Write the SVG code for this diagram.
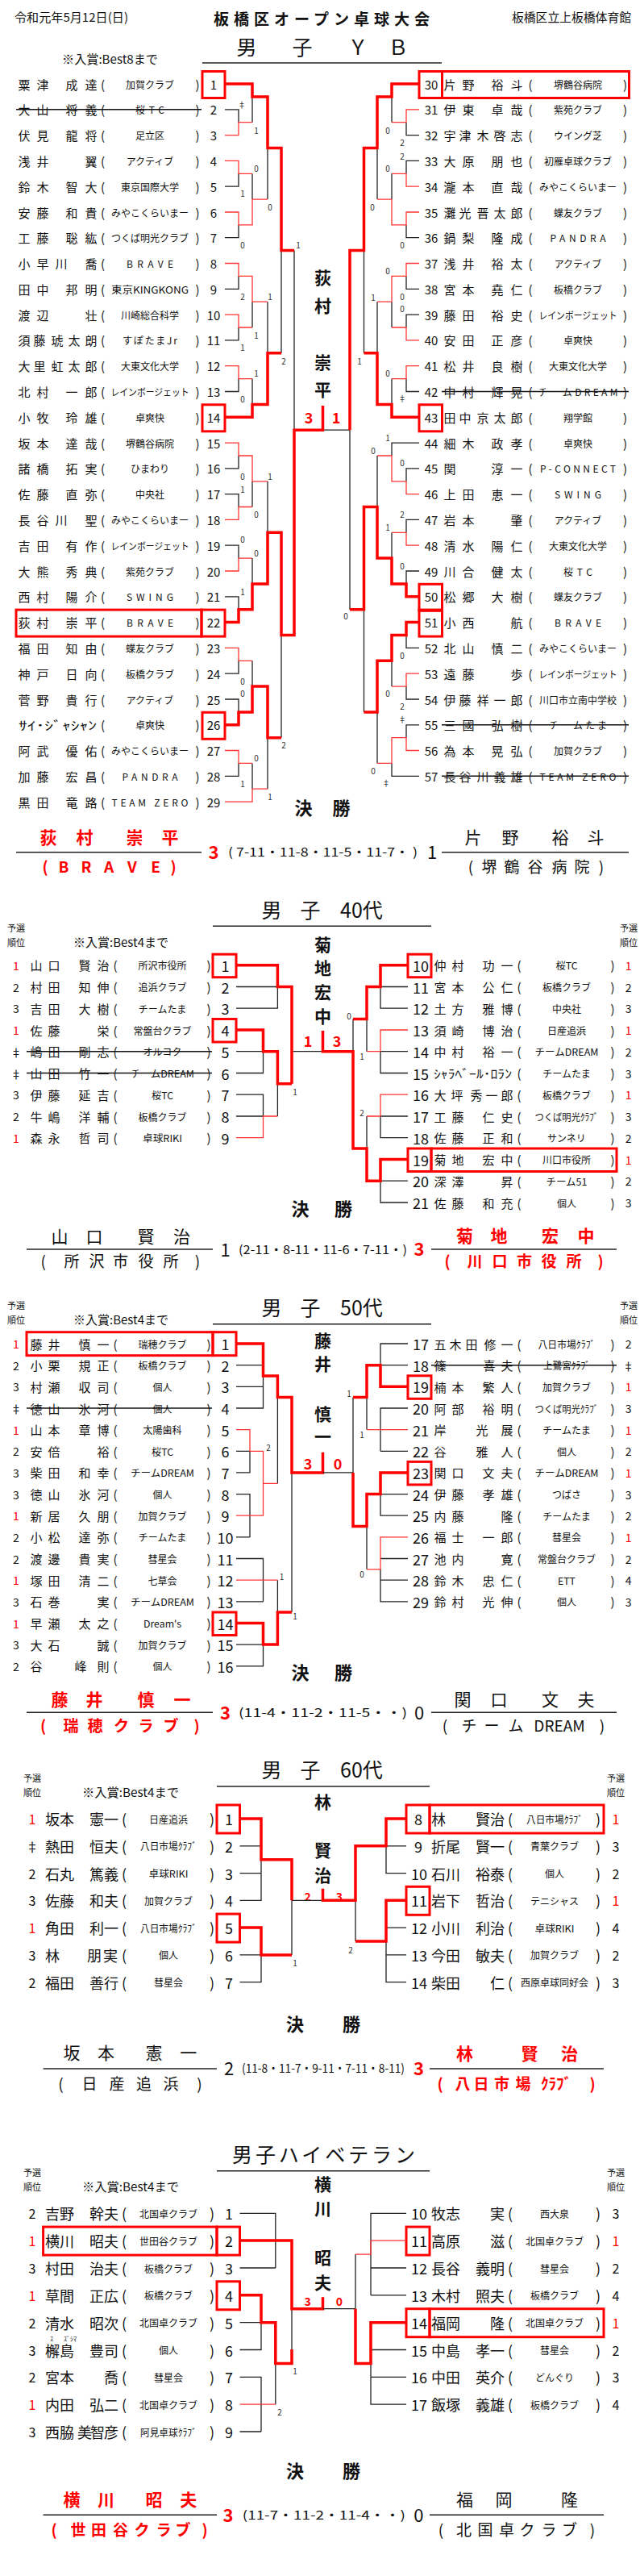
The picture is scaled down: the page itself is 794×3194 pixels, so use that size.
<svg xmlns="http://www.w3.org/2000/svg" width="794" height="3194" viewBox="0 0 794 3194">
<style>
text{font-family:"Noto Sans CJK JP","Noto Sans",sans-serif;dominant-baseline:central;text-anchor:middle;fill:#111}
.s{text-anchor:start}
.n{font-size:15px}
.n2{font-size:18px}
.c{font-size:12px}
.u{font-size:15px}
.u2{font-size:18px}
.rk{font-size:14px}
.rk2{font-size:16px}
.sc{font-size:10px;fill:#333}
.r{fill:#f00}
.b{font-weight:bold}
.ct{font-size:21px;font-weight:bold}
.cs{font-size:18px;font-weight:bold;fill:#f00}
.cs2{font-size:14px;font-weight:bold;fill:#f00}
.ttl{font-size:25px}
.sm{font-size:11px}
.nt{font-size:15px}
.fk{font-size:22px;font-weight:bold}
.fn{font-size:21px}
.fp{font-size:19px}
.fs{font-size:15px}
.fd{font-size:22px}
.k{stroke:#222;stroke-width:1.3;fill:none}
.t{stroke:#f33;stroke-width:1.3;fill:none}
.T{stroke:#f00;stroke-width:3.5;fill:none}
.bx{stroke:#f00;stroke-width:3;fill:none}
.st{stroke:#111;stroke-width:1.5}
.ul{stroke:#222;stroke-width:1.5}
</style>
<rect width="794" height="3194" fill="#fff"/>
<g id="header">
<text class="s" x="18" y="20" font-size="15" textLength="141" lengthAdjust="spacingAndGlyphs">令和元年5月12日(日)</text>
<text class="s b" x="265" y="22" font-size="19" textLength="268" lengthAdjust="spacing">板橋区オープン卓球大会</text>
<text class="s" x="635" y="20" font-size="15" textLength="148" lengthAdjust="spacingAndGlyphs">板橋区立上板橋体育館</text>
</g>

<g id="yb-title">
<text class="ttl" x="306 375 444 494" y="57">男子ＹＢ</text>
<line class="ul" x1="251" y1="78" x2="548" y2="78"/>
<text class="nt s" x="77" y="72" textLength="119" lengthAdjust="spacingAndGlyphs">※入賞:Best8まで</text>
<text class="ct" x="400.5" y="343">荻</text><text class="ct" x="400.5" y="378">村</text><text class="ct" x="400.5" y="448">崇</text><text class="ct" x="400.5" y="482">平</text>
<text class="cs" x="383" y="517">3</text><text class="cs" x="417" y="517">1</text>
</g>

<g id="yb-left">
<g id="yb1" transform="translate(0,104)"><text class="n" x="30 53 89 113">粟津成達</text><text class="n" x="127.5">(</text><text class="n" x="245">)</text><text class="c" x="186">加賀クラブ</text><text class="u" x="265">1</text><rect class="bx" x="251" y="-15.5" width="28" height="33"/></g>
<g id="yb2" transform="translate(0,135.8)"><text class="n" x="30 53 89 113">大山将義</text><text class="n" x="127.5">(</text><text class="n" x="245">)</text><text class="c" x="186" textLength="36" lengthAdjust="spacing">桜TC</text><text class="u" x="265">2</text><line class="st" x1="20" x2="250"/></g>
<g id="yb3" transform="translate(0,167.6)"><text class="n" x="30 53 89 113">伏見龍将</text><text class="n" x="127.5">(</text><text class="n" x="245">)</text><text class="c" x="186">足立区</text><text class="u" x="265">3</text></g>
<g id="yb4" transform="translate(0,199.4)"><text class="n" x="30 53 113">浅井翼</text><text class="n" x="127.5">(</text><text class="n" x="245">)</text><text class="c" x="186">アクティブ</text><text class="u" x="265">4</text></g>
<g id="yb5" transform="translate(0,231.2)"><text class="n" x="30 53 89 113">鈴木智大</text><text class="n" x="127.5">(</text><text class="n" x="245">)</text><text class="c" x="186">東京国際大学</text><text class="u" x="265">5</text></g>
<g id="yb6" transform="translate(0,263)"><text class="n" x="30 53 89 113">安藤和貴</text><text class="n" x="127.5">(</text><text class="n" x="245">)</text><text class="c" x="186">みやこくらいまー</text><text class="u" x="265">6</text></g>
<g id="yb7" transform="translate(0,294.7)"><text class="n" x="30 53 89 113">工藤聡紘</text><text class="n" x="127.5">(</text><text class="n" x="245">)</text><text class="c" x="186">つくば明光クラブ</text><text class="u" x="265">7</text></g>
<g id="yb8" transform="translate(0,326.5)"><text class="n" x="30 53 76 113">小早川喬</text><text class="n" x="127.5">(</text><text class="n" x="245">)</text><text class="c" x="186" textLength="58" lengthAdjust="spacing">BRAVE</text><text class="u" x="265">8</text></g>
<g id="yb9" transform="translate(0,358.3)"><text class="n" x="30 53 89 113">田中邦明</text><text class="n" x="127.5">(</text><text class="n" x="245">)</text><text class="c" x="186" textLength="96" lengthAdjust="spacingAndGlyphs">東京KINGKONG</text><text class="u" x="265">9</text></g>
<g id="yb10" transform="translate(0,390.1)"><text class="n" x="30 53 113">渡辺壮</text><text class="n" x="127.5">(</text><text class="n" x="245">)</text><text class="c" x="186">川崎総合科学</text><text class="u" x="265">10</text></g>
<g id="yb11" transform="translate(0,421.9)"><text class="n" x="30 49 71 92 113">須藤琥太朗</text><text class="n" x="127.5">(</text><text class="n" x="245">)</text><text class="c" x="186" textLength="68" lengthAdjust="spacing">すぽたまJr</text><text class="u" x="265">11</text></g>
<g id="yb12" transform="translate(0,453.7)"><text class="n" x="30 49 71 92 113">大里虹太郎</text><text class="n" x="127.5">(</text><text class="n" x="245">)</text><text class="c" x="186">大東文化大学</text><text class="u" x="265">12</text></g>
<g id="yb13" transform="translate(0,485.5)"><text class="n" x="30 53 89 113">北村一郎</text><text class="n" x="127.5">(</text><text class="n" x="245">)</text><text class="c" x="186" textLength="97" lengthAdjust="spacingAndGlyphs">レインボージェット</text><text class="u" x="265">13</text></g>
<g id="yb14" transform="translate(0,517.3)"><text class="n" x="30 53 89 113">小牧玲雄</text><text class="n" x="127.5">(</text><text class="n" x="245">)</text><text class="c" x="186">卓爽快</text><text class="u" x="265">14</text><rect class="bx" x="251" y="-15.5" width="28" height="33"/></g>
<g id="yb15" transform="translate(0,549.1)"><text class="n" x="30 53 89 113">坂本達哉</text><text class="n" x="127.5">(</text><text class="n" x="245">)</text><text class="c" x="186">堺鶴谷病院</text><text class="u" x="265">15</text></g>
<g id="yb16" transform="translate(0,580.9)"><text class="n" x="30 53 89 113">諸橋拓実</text><text class="n" x="127.5">(</text><text class="n" x="245">)</text><text class="c" x="186">ひまわり</text><text class="u" x="265">16</text></g>
<g id="yb17" transform="translate(0,612.6)"><text class="n" x="30 53 89 113">佐藤直弥</text><text class="n" x="127.5">(</text><text class="n" x="245">)</text><text class="c" x="186">中央社</text><text class="u" x="265">17</text></g>
<g id="yb18" transform="translate(0,644.4)"><text class="n" x="30 53 76 113">長谷川聖</text><text class="n" x="127.5">(</text><text class="n" x="245">)</text><text class="c" x="186">みやこくらいまー</text><text class="u" x="265">18</text></g>
<g id="yb19" transform="translate(0,676.2)"><text class="n" x="30 53 89 113">吉田有作</text><text class="n" x="127.5">(</text><text class="n" x="245">)</text><text class="c" x="186" textLength="97" lengthAdjust="spacingAndGlyphs">レインボージェット</text><text class="u" x="265">19</text></g>
<g id="yb20" transform="translate(0,708)"><text class="n" x="30 53 89 113">大熊秀典</text><text class="n" x="127.5">(</text><text class="n" x="245">)</text><text class="c" x="186">紫苑クラブ</text><text class="u" x="265">20</text></g>
<g id="yb21" transform="translate(0,739.8)"><text class="n" x="30 53 89 113">西村陽介</text><text class="n" x="127.5">(</text><text class="n" x="245">)</text><text class="c" x="186" textLength="58" lengthAdjust="spacing">SWING</text><text class="u" x="265">21</text></g>
<g id="yb22" transform="translate(0,771.6)"><text class="n" x="30 53 89 113">荻村崇平</text><text class="n" x="127.5">(</text><text class="n" x="245">)</text><text class="c" x="186" textLength="58" lengthAdjust="spacing">BRAVE</text><text class="u" x="265">22</text><rect class="bx" x="20" y="-15.5" width="230" height="33"/><rect class="bx" x="250" y="-15.5" width="29" height="33"/></g>
<g id="yb23" transform="translate(0,803.4)"><text class="n" x="30 53 89 113">福田知由</text><text class="n" x="127.5">(</text><text class="n" x="245">)</text><text class="c" x="186">蝶友クラブ</text><text class="u" x="265">23</text></g>
<g id="yb24" transform="translate(0,835.2)"><text class="n" x="30 53 89 113">神戸日向</text><text class="n" x="127.5">(</text><text class="n" x="245">)</text><text class="c" x="186">板橋クラブ</text><text class="u" x="265">24</text></g>
<g id="yb25" transform="translate(0,867)"><text class="n" x="30 53 89 113">菅野貴行</text><text class="n" x="127.5">(</text><text class="n" x="245">)</text><text class="c" x="186">アクティブ</text><text class="u" x="265">25</text></g>
<g id="yb26" transform="translate(0,898.8)"><text class="n s" x="23" textLength="97" lengthAdjust="spacingAndGlyphs">ｻｲ･ｼﾞｬｼｬﾝ</text><text class="n" x="127.5">(</text><text class="n" x="245">)</text><text class="c" x="186">卓爽快</text><text class="u" x="265">26</text><rect class="bx" x="251" y="-15.5" width="28" height="33"/></g>
<g id="yb27" transform="translate(0,930.5)"><text class="n" x="30 53 89 113">阿武優佑</text><text class="n" x="127.5">(</text><text class="n" x="245">)</text><text class="c" x="186">みやこくらいまー</text><text class="u" x="265">27</text></g>
<g id="yb28" transform="translate(0,962.3)"><text class="n" x="30 53 89 113">加藤宏昌</text><text class="n" x="127.5">(</text><text class="n" x="245">)</text><text class="c" x="186" textLength="69" lengthAdjust="spacing">PANDRA</text><text class="u" x="265">28</text></g>
<g id="yb29" transform="translate(0,994.1)"><text class="n" x="30 53 89 113">黒田竜路</text><text class="n" x="127.5">(</text><text class="n" x="245">)</text><text class="c" x="186" textLength="95" lengthAdjust="spacing">TEAM ZERO</text><text class="u" x="265">29</text></g>
</g>

<g id="yb-right">
<g id="yb30" transform="translate(0,104)"><text class="n" x="558 581 617 641">片野裕斗</text><text class="n" x="658">(</text><text class="n" x="775.5">)</text><text class="c" x="717">堺鶴谷病院</text><text class="u" x="535">30</text><rect class="bx" x="520" y="-15.5" width="28.5" height="33"/><rect class="bx" x="548.5" y="-15.5" width="232" height="33"/></g>
<g id="yb31" transform="translate(0,135.8)"><text class="n" x="558 581 617 641">伊東卓哉</text><text class="n" x="658">(</text><text class="n" x="775.5">)</text><text class="c" x="717">紫苑クラブ</text><text class="u" x="535">31</text></g>
<g id="yb32" transform="translate(0,167.6)"><text class="n" x="558 577 599 620 641">宇津木啓志</text><text class="n" x="658">(</text><text class="n" x="775.5">)</text><text class="c" x="717">ウイング芝</text><text class="u" x="535">32</text></g>
<g id="yb33" transform="translate(0,199.4)"><text class="n" x="558 581 617 641">大原朋也</text><text class="n" x="658">(</text><text class="n" x="775.5">)</text><text class="c" x="717">初雁卓球クラブ</text><text class="u" x="535">33</text></g>
<g id="yb34" transform="translate(0,231.2)"><text class="n" x="558 581 617 641">瀧本直哉</text><text class="n" x="658">(</text><text class="n" x="775.5">)</text><text class="c" x="717">みやこくらいまー</text><text class="u" x="535">34</text></g>
<g id="yb35" transform="translate(0,263)"><text class="n" x="558 577 599 620 641">灘光晋太郎</text><text class="n" x="658">(</text><text class="n" x="775.5">)</text><text class="c" x="717">蝶友クラブ</text><text class="u" x="535">35</text></g>
<g id="yb36" transform="translate(0,294.7)"><text class="n" x="558 581 617 641">鍋梨隆成</text><text class="n" x="658">(</text><text class="n" x="775.5">)</text><text class="c" x="717" textLength="69" lengthAdjust="spacing">PANDRA</text><text class="u" x="535">36</text></g>
<g id="yb37" transform="translate(0,326.5)"><text class="n" x="558 581 617 641">浅井裕太</text><text class="n" x="658">(</text><text class="n" x="775.5">)</text><text class="c" x="717">アクティブ</text><text class="u" x="535">37</text></g>
<g id="yb38" transform="translate(0,358.3)"><text class="n" x="558 581 617 641">宮本堯仁</text><text class="n" x="658">(</text><text class="n" x="775.5">)</text><text class="c" x="717">板橋クラブ</text><text class="u" x="535">38</text></g>
<g id="yb39" transform="translate(0,390.1)"><text class="n" x="558 581 617 641">藤田裕史</text><text class="n" x="658">(</text><text class="n" x="775.5">)</text><text class="c" x="717" textLength="97" lengthAdjust="spacingAndGlyphs">レインボージェット</text><text class="u" x="535">39</text></g>
<g id="yb40" transform="translate(0,421.9)"><text class="n" x="558 581 617 641">安田正彦</text><text class="n" x="658">(</text><text class="n" x="775.5">)</text><text class="c" x="717">卓爽快</text><text class="u" x="535">40</text></g>
<g id="yb41" transform="translate(0,453.7)"><text class="n" x="558 581 617 641">松井良樹</text><text class="n" x="658">(</text><text class="n" x="775.5">)</text><text class="c" x="717">大東文化大学</text><text class="u" x="535">41</text></g>
<g id="yb42" transform="translate(0,485.5)"><text class="n" x="558 581 617 641">中村輝晃</text><text class="n" x="658">(</text><text class="n" x="775.5">)</text><text class="c" x="717" textLength="99" lengthAdjust="spacing">チームDREAM</text><text class="u" x="535">42</text><line class="st" x1="548" x2="780"/></g>
<g id="yb43" transform="translate(0,517.3)"><text class="n" x="558 577 599 620 641">田中京太郎</text><text class="n" x="658">(</text><text class="n" x="775.5">)</text><text class="c" x="717">翔学館</text><text class="u" x="535">43</text><rect class="bx" x="520" y="-15.5" width="28.5" height="33"/></g>
<g id="yb44" transform="translate(0,549.1)"><text class="n" x="558 581 617 641">細木政孝</text><text class="n" x="658">(</text><text class="n" x="775.5">)</text><text class="c" x="717">卓爽快</text><text class="u" x="535">44</text></g>
<g id="yb45" transform="translate(0,580.9)"><text class="n" x="558 617 641">関淳一</text><text class="n" x="658">(</text><text class="n" x="775.5">)</text><text class="c" x="717" textLength="94" lengthAdjust="spacing">P-CONNECT</text><text class="u" x="535">45</text></g>
<g id="yb46" transform="translate(0,612.6)"><text class="n" x="558 581 617 641">上田恵一</text><text class="n" x="658">(</text><text class="n" x="775.5">)</text><text class="c" x="717" textLength="58" lengthAdjust="spacing">SWING</text><text class="u" x="535">46</text></g>
<g id="yb47" transform="translate(0,644.4)"><text class="n" x="558 581 641">岩本肇</text><text class="n" x="658">(</text><text class="n" x="775.5">)</text><text class="c" x="717">アクティブ</text><text class="u" x="535">47</text></g>
<g id="yb48" transform="translate(0,676.2)"><text class="n" x="558 581 617 641">清水陽仁</text><text class="n" x="658">(</text><text class="n" x="775.5">)</text><text class="c" x="717">大東文化大学</text><text class="u" x="535">48</text></g>
<g id="yb49" transform="translate(0,708)"><text class="n" x="558 581 617 641">川合健太</text><text class="n" x="658">(</text><text class="n" x="775.5">)</text><text class="c" x="717" textLength="36" lengthAdjust="spacing">桜TC</text><text class="u" x="535">49</text></g>
<g id="yb50" transform="translate(0,739.8)"><text class="n" x="558 581 617 641">松郷大樹</text><text class="n" x="658">(</text><text class="n" x="775.5">)</text><text class="c" x="717">蝶友クラブ</text><text class="u" x="535">50</text><rect class="bx" x="520" y="-15.5" width="28.5" height="33"/></g>
<g id="yb51" transform="translate(0,771.6)"><text class="n" x="558 581 641">小西航</text><text class="n" x="658">(</text><text class="n" x="775.5">)</text><text class="c" x="717" textLength="58" lengthAdjust="spacing">BRAVE</text><text class="u" x="535">51</text><rect class="bx" x="520" y="-15.5" width="28.5" height="33"/></g>
<g id="yb52" transform="translate(0,803.4)"><text class="n" x="558 581 617 641">北山慎二</text><text class="n" x="658">(</text><text class="n" x="775.5">)</text><text class="c" x="717">みやこくらいまー</text><text class="u" x="535">52</text></g>
<g id="yb53" transform="translate(0,835.2)"><text class="n" x="558 581 641">遠藤歩</text><text class="n" x="658">(</text><text class="n" x="775.5">)</text><text class="c" x="717" textLength="97" lengthAdjust="spacingAndGlyphs">レインボージェット</text><text class="u" x="535">53</text></g>
<g id="yb54" transform="translate(0,867)"><text class="n" x="558 577 599 620 641">伊藤祥一郎</text><text class="n" x="658">(</text><text class="n" x="775.5">)</text><text class="c" x="717">川口市立南中学校</text><text class="u" x="535">54</text></g>
<g id="yb55" transform="translate(0,898.8)"><text class="n" x="558 581 617 641">三國弘樹</text><text class="n" x="658">(</text><text class="n" x="775.5">)</text><text class="c" x="717" textLength="72" lengthAdjust="spacing">チームたま</text><text class="u" x="535">55</text><line class="st" x1="548" x2="780"/></g>
<g id="yb56" transform="translate(0,930.5)"><text class="n" x="558 581 617 641">為本晃弘</text><text class="n" x="658">(</text><text class="n" x="775.5">)</text><text class="c" x="717">加賀クラブ</text><text class="u" x="535">56</text></g>
<g id="yb57" transform="translate(0,962.3)"><text class="n" x="558 577 599 620 641">長谷川義雄</text><text class="n" x="658">(</text><text class="n" x="775.5">)</text><text class="c" x="717" textLength="95" lengthAdjust="spacing">TEAM ZERO</text><text class="u" x="535">57</text><line class="st" x1="548" x2="780"/></g>
</g>

<g id="yb-scores">
<text class="sc" x="300" y="129">‡</text><text class="sc" x="318" y="161">1</text><text class="sc" x="318" y="208">0</text><text class="sc" x="301" y="239">1</text><text class="sc" x="335" y="256">0</text>
<text class="sc" x="301" y="303">0</text><text class="sc" x="370" y="303">1</text><text class="sc" x="301" y="367">2</text><text class="sc" x="335" y="367">1</text><text class="sc" x="318" y="415">1</text><text class="sc" x="301" y="430">1</text><text class="sc" x="352" y="447">2</text><text class="sc" x="318" y="462">1</text><text class="sc" x="301" y="494">0</text>
<text class="sc" x="301" y="590">0</text><text class="sc" x="335" y="590">1</text><text class="sc" x="301" y="606">1</text><text class="sc" x="318" y="637">0</text><text class="sc" x="301" y="668">0</text><text class="sc" x="318" y="685">0</text><text class="sc" x="301" y="733">1</text>
<text class="sc" x="301" y="844">0</text><text class="sc" x="301" y="859">0</text><text class="sc" x="352" y="923">2</text><text class="sc" x="318" y="939">0</text><text class="sc" x="301" y="971">1</text><text class="sc" x="335" y="987">1</text>
<text class="sc" x="481" y="161">0</text><text class="sc" x="499" y="176">2</text><text class="sc" x="499" y="193">2</text><text class="sc" x="481" y="208">0</text><text class="sc" x="462" y="256">0</text>
<text class="sc" x="499" y="303">0</text><text class="sc" x="481" y="335">0</text><text class="sc" x="463" y="368">1</text><text class="sc" x="499" y="367">0</text><text class="sc" x="499" y="382">0</text><text class="sc" x="446" y="447">1</text><text class="sc" x="481" y="462">0</text><text class="sc" x="499" y="493">‡</text>
<text class="sc" x="481" y="542">1</text><text class="sc" x="463" y="558">0</text><text class="sc" x="499" y="573">0</text><text class="sc" x="499" y="637">2</text><text class="sc" x="481" y="653">1</text><text class="sc" x="499" y="701">0</text><text class="sc" x="429" y="763">0</text>
<text class="sc" x="499" y="812">0</text><text class="sc" x="481" y="859">0</text><text class="sc" x="499" y="875">2</text><text class="sc" x="499" y="891">‡</text><text class="sc" x="463" y="955">0</text><text class="sc" x="479" y="970">‡</text>
</g>

<g id="yb-final">
<text class="fk" x="376.5 423.5" y="1000">決勝</text>
<text class="fn b r" x="60 105 167 211" y="1037">荻村崇平</text>
<line class="ul" x1="20" y1="1056.7" x2="250" y2="1056.7"/>
<text class="fd b r" x="265" y="1055">3</text>
<text class="fs" x="400.5" y="1055" textLength="235" lengthAdjust="spacingAndGlyphs">( 7-11・11-8・11-5・11-7・ )</text>
<text class="fd" x="536" y="1055">1</text>
<line class="ul" x1="548" y1="1056.7" x2="780" y2="1056.7"/>
<text class="fn" x="587 633 695 739" y="1037">片野裕斗</text>
<text class="fp b r" x="56 79 107 135 164 193 215" y="1073">(BRAVE)</text>
<text class="fp" x="584 607 635 664 694 722 746" y="1073">(堺鶴谷病院)</text>
</g>

<g id="m40-title">
<text class="ttl" x="337 385 448.5" y="1127">男子40代</text>
<line class="ul" x1="264" y1="1148.3" x2="535" y2="1148.3"/>
<text class="sm" x="20" y="1150">予選</text><text class="sm" x="20" y="1168">順位</text>
<text class="sm" x="780" y="1150">予選</text><text class="sm" x="780" y="1168">順位</text>
<text class="nt s" x="91" y="1167" textLength="118" lengthAdjust="spacingAndGlyphs">※入賞:Best4まで</text>
<text class="ct" x="400.5" y="1170">菊</text><text class="ct" x="400.5" y="1199">地</text><text class="ct" x="400.5" y="1229">宏</text><text class="ct" x="400.5" y="1259">中</text>
<text class="cs" x="382" y="1290">1</text><text class="cs" x="418" y="1290">3</text>
</g>
<g id="m40-left">
<g id="m40-1" transform="translate(0,1196.7)"><text class="rk r" x="20">1</text><text class="n" x="45 67 105 128">山口賢治</text><text class="n" x="143">(</text><text class="n" x="259">)</text><text class="c" x="201.5">所沢市役所</text><text class="u2" x="279.6">1</text><rect class="bx" x="264" y="-13.5" width="29" height="28.5"/></g>
<g id="m40-2" transform="translate(0,1223.5)"><text class="rk" x="20">2</text><text class="n" x="45 67 105 128">村田知伸</text><text class="n" x="143">(</text><text class="n" x="259">)</text><text class="c" x="201.5">追浜クラブ</text><text class="u2" x="279.6">2</text></g>
<g id="m40-3" transform="translate(0,1250.2)"><text class="rk" x="20">3</text><text class="n" x="45 67 105 128">吉田大樹</text><text class="n" x="143">(</text><text class="n" x="259">)</text><text class="c" x="201.5">チームたま</text><text class="u2" x="279.6">3</text></g>
<g id="m40-4" transform="translate(0,1277)"><text class="rk r" x="20">1</text><text class="n" x="45 67 128">佐藤栄</text><text class="n" x="143">(</text><text class="n" x="259">)</text><text class="c" x="201.5">常盤台クラブ</text><text class="u2" x="279.6">4</text><rect class="bx" x="264" y="-13.5" width="29" height="28.5"/></g>
<g id="m40-5" transform="translate(0,1303.7)"><text class="rk" x="20">‡</text><text class="n" x="45 67 105 128">嶋田剛志</text><text class="n" x="143">(</text><text class="n" x="259">)</text><text class="c" x="201.5">オルコク</text><text class="u2" x="279.6">5</text><line class="st" x1="33" x2="263"/></g>
<g id="m40-6" transform="translate(0,1330.5)"><text class="rk" x="20">‡</text><text class="n" x="45 67 105 128">山田竹一</text><text class="n" x="143">(</text><text class="n" x="259">)</text><text class="c" x="201.5" textLength="79" lengthAdjust="spacingAndGlyphs">チームDREAM</text><text class="u2" x="279.6">6</text><line class="st" x1="33" x2="263"/></g>
<g id="m40-7" transform="translate(0,1357.2)"><text class="rk" x="20">3</text><text class="n" x="45 67 105 128">伊藤延吉</text><text class="n" x="143">(</text><text class="n" x="259">)</text><text class="c" x="201.5" textLength="27" lengthAdjust="spacingAndGlyphs">桜TC</text><text class="u2" x="279.6">7</text></g>
<g id="m40-8" transform="translate(0,1384)"><text class="rk" x="20">2</text><text class="n" x="45 67 105 128">牛嶋洋輔</text><text class="n" x="143">(</text><text class="n" x="259">)</text><text class="c" x="201.5">板橋クラブ</text><text class="u2" x="279.6">8</text></g>
<g id="m40-9" transform="translate(0,1410.7)"><text class="rk r" x="20">1</text><text class="n" x="45 67 105 128">森永哲司</text><text class="n" x="143">(</text><text class="n" x="259">)</text><text class="c" x="201.5" textLength="49" lengthAdjust="spacingAndGlyphs">卓球RIKI</text><text class="u2" x="279.6">9</text></g>
</g>
<g id="m40-right">
<g id="m40-10" transform="translate(0,1196.7)"><text class="u2" x="522">10</text><text class="n" x="546 568 606 629">仲村功一</text><text class="n" x="644">(</text><text class="n" x="760">)</text><text class="c" x="703" textLength="27" lengthAdjust="spacingAndGlyphs">桜TC</text><text class="rk r" x="779.6">1</text><rect class="bx" x="506" y="-13.5" width="29" height="28.5"/></g>
<g id="m40-11" transform="translate(0,1223.5)"><text class="u2" x="522">11</text><text class="n" x="546 568 606 629">宮本公仁</text><text class="n" x="644">(</text><text class="n" x="760">)</text><text class="c" x="703">板橋クラブ</text><text class="rk" x="779.6">2</text></g>
<g id="m40-12" transform="translate(0,1250.2)"><text class="u2" x="522">12</text><text class="n" x="546 568 606 629">土方雅博</text><text class="n" x="644">(</text><text class="n" x="760">)</text><text class="c" x="703">中央社</text><text class="rk" x="779.6">3</text></g>
<g id="m40-13" transform="translate(0,1277)"><text class="u2" x="522">13</text><text class="n" x="546 568 606 629">須崎博治</text><text class="n" x="644">(</text><text class="n" x="760">)</text><text class="c" x="703">日産追浜</text><text class="rk r" x="779.6">1</text></g>
<g id="m40-14" transform="translate(0,1303.7)"><text class="u2" x="522">14</text><text class="n" x="546 568 606 629">中村裕一</text><text class="n" x="644">(</text><text class="n" x="760">)</text><text class="c" x="703" textLength="79" lengthAdjust="spacingAndGlyphs">チームDREAM</text><text class="rk" x="779.6">2</text></g>
<g id="m40-15" transform="translate(0,1330.5)"><text class="u2" x="522">15</text><text class="n s" x="538" textLength="97" lengthAdjust="spacingAndGlyphs">ｼｬﾗﾍﾞｰﾙ･ﾛﾗﾝ</text><text class="n" x="644">(</text><text class="n" x="760">)</text><text class="c" x="703">チームたま</text><text class="rk" x="779.6">3</text></g>
<g id="m40-16" transform="translate(0,1357.2)"><text class="u2" x="522">16</text><text class="n" x="546 567 591 610 629">大坪秀一郎</text><text class="n" x="644">(</text><text class="n" x="760">)</text><text class="c" x="703">板橋クラブ</text><text class="rk r" x="779.6">1</text></g>
<g id="m40-17" transform="translate(0,1384)"><text class="u2" x="522">17</text><text class="n" x="546 568 606 629">工藤仁史</text><text class="n" x="644">(</text><text class="n" x="760">)</text><text class="c" x="703" textLength="79" lengthAdjust="spacingAndGlyphs">つくば明光ｸﾗﾌﾞ</text><text class="rk" x="779.6">3</text></g>
<g id="m40-18" transform="translate(0,1410.7)"><text class="u2" x="522">18</text><text class="n" x="546 568 606 629">佐藤正和</text><text class="n" x="644">(</text><text class="n" x="760">)</text><text class="c" x="703">サンネリ</text><text class="rk" x="779.6">2</text></g>
<g id="m40-19" transform="translate(0,1437.5)"><text class="u2" x="522">19</text><text class="n" x="546 568 606 629">菊地宏中</text><text class="n" x="644">(</text><text class="n" x="760">)</text><text class="c" x="703">川口市役所</text><text class="rk r" x="779.6">1</text><rect class="bx" x="506" y="-13.5" width="29" height="28.5"/><rect class="bx" x="535" y="-13.5" width="230" height="28.5"/></g>
<g id="m40-20" transform="translate(0,1464.2)"><text class="u2" x="522">20</text><text class="n" x="546 568 629">深澤昇</text><text class="n" x="644">(</text><text class="n" x="760">)</text><text class="c" x="703" textLength="51" lengthAdjust="spacingAndGlyphs">チーム51</text><text class="rk" x="779.6">2</text></g>
<g id="m40-21" transform="translate(0,1491)"><text class="u2" x="522">21</text><text class="n" x="546 568 606 629">佐藤和充</text><text class="n" x="644">(</text><text class="n" x="760">)</text><text class="c" x="703">個人</text><text class="rk" x="779.6">3</text></g>
</g>
<g id="m40-scores">
<text class="sc" x="366" y="1353">1</text><text class="sc" x="433" y="1259">0</text><text class="sc" x="449" y="1309">1</text><text class="sc" x="449" y="1379">2</text>
</g>
<g id="m40-final">
<text class="fk" x="372.4 426" y="1497">決勝</text>
<text class="fn" x="74 117 181 225.5" y="1532">山口賢治</text>
<line class="ul" x1="33" y1="1549" x2="264" y2="1549"/>
<text class="fp" x="53.6 89 120 149.5 181 212 245" y="1562">(所沢市役所)</text>
<text class="fd" x="279.6" y="1548">1</text>
<text class="fs" x="400.5" y="1548" textLength="209" lengthAdjust="spacingAndGlyphs">(2-11・8-11・11-6・7-11・)</text>
<text class="fd b r" x="520" y="1547">3</text>
<line class="ul" x1="535" y1="1549" x2="765" y2="1549"/>
<text class="fn b r" x="576.5 619 682.6 727" y="1531">菊地宏中</text>
<text class="fp b r" x="555 589 620 650.5 681 712 745" y="1562">(川口市役所)</text>
</g>

<g id="m50-title">
<text class="ttl" x="337 385 448.5" y="1620">男子50代</text>
<line class="ul" x1="264" y1="1641.7" x2="535" y2="1641.7"/>
<text class="sm" x="20" y="1618">予選</text><text class="sm" x="20" y="1636">順位</text>
<text class="sm" x="780" y="1618">予選</text><text class="sm" x="780" y="1636">順位</text>
<text class="nt s" x="91" y="1635" textLength="118" lengthAdjust="spacingAndGlyphs">※入賞:Best4まで</text>
<text class="ct" x="400.5" y="1661">藤</text><text class="ct" x="400.5" y="1690">井</text><text class="ct" x="400.5" y="1752">慎</text><text class="ct" x="400.5" y="1780">一</text>
<text class="cs" x="382" y="1814">3</text><text class="cs" x="419" y="1814">0</text>
</g>
<g id="m50-left">
<g id="m50-1" transform="translate(0,1666)"><text class="rk r" x="20">1</text><text class="n" x="45 67 105 128">藤井慎一</text><text class="n" x="143">(</text><text class="n" x="259">)</text><text class="c" x="201.5">瑞穂クラブ</text><text class="u2" x="279.6">1</text><rect class="bx" x="33" y="-14.3" width="231" height="29"/><rect class="bx" x="264" y="-14.3" width="29" height="29"/></g>
<g id="m50-2" transform="translate(0,1692.7)"><text class="rk" x="20">2</text><text class="n" x="45 67 105 128">小栗規正</text><text class="n" x="143">(</text><text class="n" x="259">)</text><text class="c" x="201.5">板橋クラブ</text><text class="u2" x="279.6">2</text></g>
<g id="m50-3" transform="translate(0,1719.3)"><text class="rk" x="20">3</text><text class="n" x="45 67 105 128">村瀬収司</text><text class="n" x="143">(</text><text class="n" x="259">)</text><text class="c" x="201.5">個人</text><text class="u2" x="279.6">3</text></g>
<g id="m50-4" transform="translate(0,1746)"><text class="rk" x="20">‡</text><text class="n" x="45 67 105 128">徳山氷河</text><text class="n" x="143">(</text><text class="n" x="259">)</text><text class="c" x="201.5">個人</text><text class="u2" x="279.6">4</text><line class="st" x1="33" x2="263"/></g>
<g id="m50-5" transform="translate(0,1772.6)"><text class="rk r" x="20">1</text><text class="n" x="45 67 105 128">山本章博</text><text class="n" x="143">(</text><text class="n" x="259">)</text><text class="c" x="201.5">太陽歯科</text><text class="u2" x="279.6">5</text></g>
<g id="m50-6" transform="translate(0,1799.3)"><text class="rk" x="20">2</text><text class="n" x="45 67 128">安倍裕</text><text class="n" x="143">(</text><text class="n" x="259">)</text><text class="c" x="201.5" textLength="27" lengthAdjust="spacingAndGlyphs">桜TC</text><text class="u2" x="279.6">6</text></g>
<g id="m50-7" transform="translate(0,1825.9)"><text class="rk" x="20">3</text><text class="n" x="45 67 105 128">柴田和幸</text><text class="n" x="143">(</text><text class="n" x="259">)</text><text class="c" x="201.5" textLength="79" lengthAdjust="spacingAndGlyphs">チームDREAM</text><text class="u2" x="279.6">7</text></g>
<g id="m50-8" transform="translate(0,1852.6)"><text class="rk" x="20">3</text><text class="n" x="45 67 105 128">徳山氷河</text><text class="n" x="143">(</text><text class="n" x="259">)</text><text class="c" x="201.5">個人</text><text class="u2" x="279.6">8</text></g>
<g id="m50-9" transform="translate(0,1879.2)"><text class="rk r" x="20">1</text><text class="n" x="45 67 105 128">新居久朋</text><text class="n" x="143">(</text><text class="n" x="259">)</text><text class="c" x="201.5">加賀クラブ</text><text class="u2" x="279.6">9</text></g>
<g id="m50-10" transform="translate(0,1905.9)"><text class="rk" x="20">2</text><text class="n" x="45 67 105 128">小松達弥</text><text class="n" x="143">(</text><text class="n" x="259">)</text><text class="c" x="201.5">チームたま</text><text class="u2" x="279.6">10</text></g>
<g id="m50-11" transform="translate(0,1932.5)"><text class="rk" x="20">2</text><text class="n" x="45 67 105 128">渡邊貴実</text><text class="n" x="143">(</text><text class="n" x="259">)</text><text class="c" x="201.5">彗星会</text><text class="u2" x="279.6">11</text></g>
<g id="m50-12" transform="translate(0,1959.2)"><text class="rk r" x="20">1</text><text class="n" x="45 67 105 128">塚田清二</text><text class="n" x="143">(</text><text class="n" x="259">)</text><text class="c" x="201.5">七草会</text><text class="u2" x="279.6">12</text></g>
<g id="m50-13" transform="translate(0,1985.8)"><text class="rk" x="20">3</text><text class="n" x="45 67 128">石巻実</text><text class="n" x="143">(</text><text class="n" x="259">)</text><text class="c" x="201.5" textLength="79" lengthAdjust="spacingAndGlyphs">チームDREAM</text><text class="u2" x="279.6">13</text></g>
<g id="m50-14" transform="translate(0,2012.5)"><text class="rk r" x="20">1</text><text class="n" x="45 67 105 128">早瀬太之</text><text class="n" x="143">(</text><text class="n" x="259">)</text><text class="c" x="201.5" textLength="47" lengthAdjust="spacingAndGlyphs">Dream's</text><text class="u2" x="279.6">14</text><rect class="bx" x="264" y="-13.5" width="29" height="28.5"/></g>
<g id="m50-15" transform="translate(0,2039.1)"><text class="rk" x="20">3</text><text class="n" x="45 67 128">大石誠</text><text class="n" x="143">(</text><text class="n" x="259">)</text><text class="c" x="201.5">加賀クラブ</text><text class="u2" x="279.6">15</text></g>
<g id="m50-16" transform="translate(0,2065.8)"><text class="rk" x="20">2</text><text class="n" x="45 100 128">谷峰則</text><text class="n" x="143">(</text><text class="n" x="259">)</text><text class="c" x="201.5">個人</text><text class="u2" x="279.6">16</text></g>
</g>
<g id="m50-right">
<g id="m50-17" transform="translate(0,1666)"><text class="u2" x="522">17</text><text class="n" x="546 565 585 608 629">五木田修一</text><text class="n" x="644">(</text><text class="n" x="760">)</text><text class="c" x="703" textLength="71" lengthAdjust="spacingAndGlyphs">八日市場ｸﾗﾌﾞ</text><text class="rk" x="779.6">2</text></g>
<g id="m50-18" transform="translate(0,1692.7)"><text class="u2" x="522">18</text><text class="n" x="546 607 629">篠喜夫</text><text class="n" x="644">(</text><text class="n" x="760">)</text><text class="c" x="703" textLength="58" lengthAdjust="spacingAndGlyphs">上鷺宮ｸﾗﾌﾞ</text><text class="rk" x="779.6">‡</text><line class="st" x1="535" x2="765"/></g>
<g id="m50-19" transform="translate(0,1719.3)"><text class="u2" x="522">19</text><text class="n" x="546 568 606 629">楠本繁人</text><text class="n" x="644">(</text><text class="n" x="760">)</text><text class="c" x="703">加賀クラブ</text><text class="rk r" x="779.6">1</text><rect class="bx" x="506" y="-13.5" width="29" height="28.5"/></g>
<g id="m50-20" transform="translate(0,1746)"><text class="u2" x="522">20</text><text class="n" x="546 568 606 629">阿部裕明</text><text class="n" x="644">(</text><text class="n" x="760">)</text><text class="c" x="703" textLength="79" lengthAdjust="spacingAndGlyphs">つくば明光ｸﾗﾌﾞ</text><text class="rk" x="779.6">3</text></g>
<g id="m50-21" transform="translate(0,1772.6)"><text class="u2" x="522">21</text><text class="n" x="546 598 629">岸光展</text><text class="n" x="644">(</text><text class="n" x="760">)</text><text class="c" x="703">チームたま</text><text class="rk r" x="779.6">1</text></g>
<g id="m50-22" transform="translate(0,1799.3)"><text class="u2" x="522">22</text><text class="n" x="546 598 629">谷雅人</text><text class="n" x="644">(</text><text class="n" x="760">)</text><text class="c" x="703">個人</text><text class="rk" x="779.6">2</text></g>
<g id="m50-23" transform="translate(0,1825.9)"><text class="u2" x="522">23</text><text class="n" x="546 568 606 629">関口文夫</text><text class="n" x="644">(</text><text class="n" x="760">)</text><text class="c" x="703" textLength="79" lengthAdjust="spacingAndGlyphs">チームDREAM</text><text class="rk r" x="779.6">1</text><rect class="bx" x="506" y="-13.5" width="29" height="28.5"/></g>
<g id="m50-24" transform="translate(0,1852.6)"><text class="u2" x="522">24</text><text class="n" x="546 568 606 629">伊藤孝雄</text><text class="n" x="644">(</text><text class="n" x="760">)</text><text class="c" x="703">つばさ</text><text class="rk" x="779.6">3</text></g>
<g id="m50-25" transform="translate(0,1879.2)"><text class="u2" x="522">25</text><text class="n" x="546 568 629">内藤隆</text><text class="n" x="644">(</text><text class="n" x="760">)</text><text class="c" x="703">チームたま</text><text class="rk" x="779.6">2</text></g>
<g id="m50-26" transform="translate(0,1905.9)"><text class="u2" x="522">26</text><text class="n" x="546 568 606 629">福士一郎</text><text class="n" x="644">(</text><text class="n" x="760">)</text><text class="c" x="703">彗星会</text><text class="rk r" x="779.6">1</text></g>
<g id="m50-27" transform="translate(0,1932.5)"><text class="u2" x="522">27</text><text class="n" x="546 568 629">池内寛</text><text class="n" x="644">(</text><text class="n" x="760">)</text><text class="c" x="703">常盤台クラブ</text><text class="rk" x="779.6">2</text></g>
<g id="m50-28" transform="translate(0,1959.2)"><text class="u2" x="522">28</text><text class="n" x="546 568 606 629">鈴木忠仁</text><text class="n" x="644">(</text><text class="n" x="760">)</text><text class="c" x="703" textLength="22" lengthAdjust="spacingAndGlyphs">ETT</text><text class="rk" x="779.6">4</text></g>
<g id="m50-29" transform="translate(0,1985.8)"><text class="u2" x="522">29</text><text class="n" x="546 568 606 629">鈴村光伸</text><text class="n" x="644">(</text><text class="n" x="760">)</text><text class="c" x="703">個人</text><text class="rk" x="779.6">3</text></g>
</g>
<g id="m50-scores">
<text class="sc" x="333" y="1794">2</text><text class="sc" x="349.5" y="1954">1</text><text class="sc" x="366" y="2003">1</text><text class="sc" x="433" y="1727">1</text><text class="sc" x="449" y="1778">1</text><text class="sc" x="449" y="1951">0</text>
</g>
<g id="m50-final">
<text class="fk" x="372.4 426" y="2072">決勝</text>
<text class="fn b r" x="74 117 181 226" y="2106">藤井慎一</text>
<line class="ul" x1="33" y1="2123.3" x2="264" y2="2123.3"/>
<text class="fd b r" x="279.6" y="2122">3</text>
<text class="fs" x="400.5" y="2122" textLength="209" lengthAdjust="spacingAndGlyphs">(11-4・11-2・11-5・・)</text>
<text class="fd" x="520" y="2122">0</text>
<line class="ul" x1="535" y1="2123.3" x2="765" y2="2123.3"/>
<text class="fn" x="574 619 682.6 727" y="2106">関口文夫</text>
<text class="fp b r" x="53.6 88 118 150.5 181 212 244" y="2138">(瑞穂クラブ)</text>
<text class="fp" x="552 582 610 640 694" y="2138">(チームDREAM</text><text class="fp" x="747" y="2138">)</text>
</g>

<g id="m60-title">
<text class="ttl" x="337 385 448.5" y="2193">男子60代</text>
<line class="ul" x1="269" y1="2215" x2="533" y2="2215"/>
<text class="sm" x="40" y="2204">予選</text><text class="sm" x="40" y="2222">順位</text>
<text class="sm" x="764" y="2204">予選</text><text class="sm" x="764" y="2222">順位</text>
<text class="nt s" x="102" y="2221" textLength="120" lengthAdjust="spacingAndGlyphs">※入賞:Best4まで</text>
<text class="ct" x="400.5" y="2233">林</text><text class="ct" x="400.5" y="2293">賢</text><text class="ct" x="400.5" y="2324">治</text>
<text class="cs2" x="381.6" y="2351">2</text><text class="cs2" x="421" y="2351">3</text>
</g>
<g id="m60-left">
<g id="m60-1" transform="translate(0,2255)"><text class="rk2 r" x="40">1</text><text class="n2" x="65 83 120 138">坂本憲一</text><text class="n2" x="154">(</text><text class="n2" x="263">)</text><text class="c" x="209">日産追浜</text><text class="u2" x="284">1</text><rect class="bx" x="269" y="-17" width="28.5" height="35"/></g>
<g id="m60-2" transform="translate(0,2288.8)"><text class="rk2" x="40">‡</text><text class="n2" x="65 83 120 138">熱田恒夫</text><text class="n2" x="154">(</text><text class="n2" x="263">)</text><text class="c" x="209" textLength="70" lengthAdjust="spacingAndGlyphs">八日市場ｸﾗﾌﾞ</text><text class="u2" x="284">2</text></g>
<g id="m60-3" transform="translate(0,2322.6)"><text class="rk2" x="40">2</text><text class="n2" x="65 83 120 138">石丸篤義</text><text class="n2" x="154">(</text><text class="n2" x="263">)</text><text class="c" x="209" textLength="49" lengthAdjust="spacingAndGlyphs">卓球RIKI</text><text class="u2" x="284">3</text></g>
<g id="m60-4" transform="translate(0,2356.3)"><text class="rk2" x="40">3</text><text class="n2" x="65 83 120 138">佐藤和夫</text><text class="n2" x="154">(</text><text class="n2" x="263">)</text><text class="c" x="209">加賀クラブ</text><text class="u2" x="284">4</text></g>
<g id="m60-5" transform="translate(0,2390.1)"><text class="rk2 r" x="40">1</text><text class="n2" x="65 83 120 138">角田利一</text><text class="n2" x="154">(</text><text class="n2" x="263">)</text><text class="c" x="209" textLength="70" lengthAdjust="spacingAndGlyphs">八日市場ｸﾗﾌﾞ</text><text class="u2" x="284">5</text><rect class="bx" x="269" y="-17" width="28.5" height="35"/></g>
<g id="m60-6" transform="translate(0,2423.9)"><text class="rk2" x="40">3</text><text class="n2" x="65 117 137">林朋実</text><text class="n2" x="154">(</text><text class="n2" x="263">)</text><text class="c" x="209">個人</text><text class="u2" x="284">6</text></g>
<g id="m60-7" transform="translate(0,2457.7)"><text class="rk2" x="40">2</text><text class="n2" x="65 83 120 138">福田善行</text><text class="n2" x="154">(</text><text class="n2" x="263">)</text><text class="c" x="209">彗星会</text><text class="u2" x="284">7</text></g>
</g>
<g id="m60-right">
<g id="m60-8" transform="translate(0,2255)"><text class="u2" x="519">8</text><text class="n2" x="544 599 617">林賢治</text><text class="n2" x="633">(</text><text class="n2" x="742">)</text><text class="c" x="688" textLength="70" lengthAdjust="spacingAndGlyphs">八日市場ｸﾗﾌﾞ</text><text class="rk2 r" x="764">1</text><rect class="bx" x="504" y="-17" width="29" height="35"/><rect class="bx" x="533" y="-17" width="216" height="35"/></g>
<g id="m60-9" transform="translate(0,2288.8)"><text class="u2" x="519">9</text><text class="n2" x="544 562 599 617">折尾賢一</text><text class="n2" x="633">(</text><text class="n2" x="742">)</text><text class="c" x="688">青葉クラブ</text><text class="rk2" x="764">3</text></g>
<g id="m60-10" transform="translate(0,2322.6)"><text class="u2" x="520">10</text><text class="n2" x="544 562 599 617">石川裕泰</text><text class="n2" x="633">(</text><text class="n2" x="742">)</text><text class="c" x="688">個人</text><text class="rk2" x="764">2</text></g>
<g id="m60-11" transform="translate(0,2356.3)"><text class="u2" x="520">11</text><text class="n2" x="544 562 599 617">岩下哲治</text><text class="n2" x="633">(</text><text class="n2" x="742">)</text><text class="c" x="688">テニシャス</text><text class="rk2 r" x="764">1</text><rect class="bx" x="504" y="-17" width="29" height="35"/></g>
<g id="m60-12" transform="translate(0,2390.1)"><text class="u2" x="520">12</text><text class="n2" x="544 562 599 617">小川利治</text><text class="n2" x="633">(</text><text class="n2" x="742">)</text><text class="c" x="688" textLength="49" lengthAdjust="spacingAndGlyphs">卓球RIKI</text><text class="rk2" x="764">4</text></g>
<g id="m60-13" transform="translate(0,2423.9)"><text class="u2" x="520">13</text><text class="n2" x="544 562 599 617">今田敏夫</text><text class="n2" x="633">(</text><text class="n2" x="742">)</text><text class="c" x="688">加賀クラブ</text><text class="rk2" x="764">2</text></g>
<g id="m60-14" transform="translate(0,2457.7)"><text class="u2" x="520">14</text><text class="n2" x="544 562 617">柴田仁</text><text class="n2" x="633">(</text><text class="n2" x="742">)</text><text class="c" x="688">西原卓球同好会</text><text class="rk2" x="764">3</text></g>
</g>
<g id="m60-scores">
<text class="sc" x="366" y="2433">1</text><text class="sc" x="435" y="2417">2</text>
</g>
<g id="m60-final">
<text class="fk" x="366 436" y="2508">決勝</text>
<text class="fn" x="89 131.6 191 233.7" y="2544">坂本憲一</text>
<line class="ul" x1="53.6" y1="2565" x2="269" y2="2565"/>
<text class="fp" x="75.5 111 145 178.6 212 247.4" y="2582">(日産追浜)</text>
<text class="fd" x="284" y="2563">2</text>
<text class="fs" x="401" y="2563" textLength="202" lengthAdjust="spacingAndGlyphs">(11-8・11-7・9-11・7-11・8-11)</text>
<text class="fd b r" x="519.4" y="2563">3</text>
<line class="ul" x1="533" y1="2565" x2="749" y2="2565"/>
<text class="fn b r" x="576.5 657 706.6" y="2545">林賢治</text>
<text class="fp b r" x="546 574 597 622.4 649 690" y="2582">(八日市場ｸﾗﾌﾞ</text><text class="fp b r" x="735" y="2582">)</text>
</g>

<g id="hv-title">
<text class="ttl s" x="288" y="2670" textLength="227" lengthAdjust="spacing">男子ハイベテラン</text>
<line class="ul" x1="269" y1="2691.7" x2="533" y2="2691.7"/>
<text class="sm" x="40" y="2693">予選</text><text class="sm" x="40" y="2711">順位</text>
<text class="sm" x="764" y="2693">予選</text><text class="sm" x="764" y="2711">順位</text>
<text class="nt s" x="102" y="2710" textLength="120" lengthAdjust="spacingAndGlyphs">※入賞:Best4まで</text>
<text class="ct" x="400.5" y="2707">横</text><text class="ct" x="400.5" y="2737">川</text><text class="ct" x="400.5" y="2798">昭</text><text class="ct" x="400.5" y="2829">夫</text>
<text class="cs2" x="381.6" y="2853">3</text><text class="cs2" x="421" y="2853">0</text>
</g>
<g id="hv-left">
<g id="hv-1" transform="translate(0,2744.3)"><text class="rk2" x="40">2</text><text class="n2" x="65 83 120 138">吉野幹夫</text><text class="n2" x="154">(</text><text class="n2" x="263">)</text><text class="c" x="209">北国卓クラブ</text><text class="u2" x="284">1</text></g>
<g id="hv-2" transform="translate(0,2778.1)"><text class="rk2 r" x="40">1</text><text class="n2" x="65 83 120 138">横川昭夫</text><text class="n2" x="154">(</text><text class="n2" x="263">)</text><text class="c" x="209">世田谷クラブ</text><text class="u2" x="284">2</text><rect class="bx" x="53.6" y="-17" width="215.4" height="35"/><rect class="bx" x="269" y="-17" width="28.5" height="35"/></g>
<g id="hv-3" transform="translate(0,2812)"><text class="rk2" x="40">3</text><text class="n2" x="65 83 120 138">村田治夫</text><text class="n2" x="154">(</text><text class="n2" x="263">)</text><text class="c" x="209">板橋クラブ</text><text class="u2" x="284">3</text></g>
<g id="hv-4" transform="translate(0,2845.8)"><text class="rk2 r" x="40">1</text><text class="n2" x="65 83 120 138">草間正広</text><text class="n2" x="154">(</text><text class="n2" x="263">)</text><text class="c" x="209">板橋クラブ</text><text class="u2" x="284">4</text><rect class="bx" x="269" y="-17" width="28.5" height="35"/></g>
<g id="hv-5" transform="translate(0,2879.7)"><text class="rk2" x="40">2</text><text class="n2" x="65 83 120 138">清水昭次</text><text class="n2" x="154">(</text><text class="n2" x="263">)</text><text class="c" x="209">北国卓クラブ</text><text class="u2" x="284">5</text></g>
<g id="hv-6" transform="translate(0,2913.5)"><text class="rk2" x="40">3</text><text class="n2" x="65 83 120 138">檞島豊司</text><text class="n2" x="154">(</text><text class="n2" x="263">)</text><text class="c" x="209">個人</text><text class="u2" x="284">6</text><text font-size="8" x="64 87" y="-14">ｽｽﾞｼﾏ</text></g>
<g id="hv-7" transform="translate(0,2947.3)"><text class="rk2" x="40">2</text><text class="n2" x="65 83 138">宮本喬</text><text class="n2" x="154">(</text><text class="n2" x="263">)</text><text class="c" x="209">彗星会</text><text class="u2" x="284">7</text></g>
<g id="hv-8" transform="translate(0,2981.2)"><text class="rk2 r" x="40">1</text><text class="n2" x="65 83 120 138">内田弘二</text><text class="n2" x="154">(</text><text class="n2" x="263">)</text><text class="c" x="209">北国卓クラブ</text><text class="u2" x="284">8</text></g>
<g id="hv-9" transform="translate(0,3015)"><text class="rk2" x="40">3</text><text class="n2" x="65 83 105 121 138">西脇美智彦</text><text class="n2" x="154">(</text><text class="n2" x="263">)</text><text class="c" x="209" textLength="70" lengthAdjust="spacingAndGlyphs">阿見卓球ｸﾗﾌﾞ</text><text class="u2" x="284">9</text></g>
</g>
<g id="hv-right">
<g id="hv-10" transform="translate(0,2744.3)"><text class="u2" x="520">10</text><text class="n2" x="544 562 617">牧志実</text><text class="n2" x="633">(</text><text class="n2" x="742">)</text><text class="c" x="688">西大泉</text><text class="rk2" x="764">3</text></g>
<g id="hv-11" transform="translate(0,2778.1)"><text class="u2" x="520">11</text><text class="n2" x="544 562 617">高原滋</text><text class="n2" x="633">(</text><text class="n2" x="742">)</text><text class="c" x="688">北国卓クラブ</text><text class="rk2 r" x="764">1</text><rect class="bx" x="504" y="-17" width="29" height="35"/></g>
<g id="hv-12" transform="translate(0,2812)"><text class="u2" x="520">12</text><text class="n2" x="544 562 599 617">長谷義明</text><text class="n2" x="633">(</text><text class="n2" x="742">)</text><text class="c" x="688">彗星会</text><text class="rk2" x="764">2</text></g>
<g id="hv-13" transform="translate(0,2845.8)"><text class="u2" x="520">13</text><text class="n2" x="544 562 599 617">木村照夫</text><text class="n2" x="633">(</text><text class="n2" x="742">)</text><text class="c" x="688">板橋クラブ</text><text class="rk2" x="764">4</text></g>
<g id="hv-14" transform="translate(0,2879.7)"><text class="u2" x="520">14</text><text class="n2" x="544 562 617">福岡隆</text><text class="n2" x="633">(</text><text class="n2" x="742">)</text><text class="c" x="688">北国卓クラブ</text><text class="rk2 r" x="764">1</text><rect class="bx" x="504" y="-17" width="29" height="35"/><rect class="bx" x="533" y="-17" width="216" height="35"/></g>
<g id="hv-15" transform="translate(0,2913.5)"><text class="u2" x="520">15</text><text class="n2" x="544 562 599 617">中島孝一</text><text class="n2" x="633">(</text><text class="n2" x="742">)</text><text class="c" x="688">彗星会</text><text class="rk2" x="764">2</text></g>
<g id="hv-16" transform="translate(0,2947.3)"><text class="u2" x="520">16</text><text class="n2" x="544 562 599 617">中田英介</text><text class="n2" x="633">(</text><text class="n2" x="742">)</text><text class="c" x="688">どんぐり</text><text class="rk2" x="764">3</text></g>
<g id="hv-17" transform="translate(0,2981.2)"><text class="u2" x="520">17</text><text class="n2" x="544 562 599 617">飯塚義雄</text><text class="n2" x="633">(</text><text class="n2" x="742">)</text><text class="c" x="688">板橋クラブ</text><text class="rk2" x="764">4</text></g>
</g>
<g id="hv-scores">
<text class="sc" x="366" y="2939">1</text><text class="sc" x="347" y="2990">2</text>
</g>
<g id="hv-final">
<text class="fk" x="366 436" y="3062">決勝</text>
<text class="fn b r" x="89 131.6 191 233.7" y="3098">横川昭夫</text>
<line class="ul" x1="53.6" y1="3118.3" x2="269" y2="3118.3"/>
<text class="fp b r" x="67 97 122.4 149.5 176 203 227 254" y="3135">(世田谷クラブ)</text>
<text class="fd b r" x="283" y="3117">3</text>
<text class="fs" x="401.8" y="3117" textLength="202" lengthAdjust="spacingAndGlyphs">(11-7・11-2・11-4・・)</text>
<text class="fd" x="519.4" y="3117">0</text>
<line class="ul" x1="533" y1="3118.3" x2="749" y2="3118.3"/>
<text class="fn" x="576.5 625 706.6" y="3098">福岡隆</text>
<text class="fp" x="547 575.5 602 628.6 654 681 706.6 735" y="3135">(北国卓クラブ)</text>
</g>

<g id="connectors">
<g id="yb-lines">
<path class="k" d="M279,135.8H296V151.7M313,119.9V151.7M279,231.2H296V215.3M279,294.7H296V278.9M313,215.3V247.1M332,183.5V247.1M279,358.3H296V342.4M279,421.9H296V406M313,374.2V406M279,485.5H296V469.6M313,469.6V501.4M332,374.2V437.8M349,310.6V437.8M365,310.6V533.2M279,580.9H296V565M279,612.6H296V628.5M313,596.8V628.5M279,676.2H296V692.1M279,739.8H296V755.7M313,692.1V723.9M332,596.8V660.3M279,835.2H296V819.3M279,867H296V882.9M313,819.3V851.1M279,962.3H296V946.4M313,946.4V978.2M332,914.7V978.2M349,787.5V914.7M400.5,533.2H434"/>
<path class="t" d="M279,167.6H296V151.7H313M279,199.4H296V215.3H313M279,263H296V278.9H313V247.1H332M279,326.5H296V342.4H313V374.2H332M279,390.1H296V406H313M279,453.7H296V469.6H313M279,549.1H296V565H313V596.8H332M279,644.4H296V628.5H313M279,708H296V692.1H313M279,803.4H296V819.3H313M279,930.5H296V946.4H313M279,994.1H313V978.2H332"/>
<path class="T" d="M279,104H313V119.9H332V183.5H349V310.6H365M279,517.3H313V501.4H332V437.8H349M279,771.6H296V755.7H313V723.9H332V660.3H349V787.5H365V533.2H400.5V503M279,898.8H296V882.9H313V851.1H332V914.7H349"/>
<path class="k" d="M520,167.6H504V151.7M486,119.9V151.7M520,199.4H504V215.3M520,294.7H504V278.9M486,215.3V247.1M468,183.5V247.1M520,358.3H504V342.4M520,390.1H504V406M486,374.2V406M520,485.5H504V469.6M486,469.6V501.4M468,374.2V437.8M451.5,310.6V437.8M434,533.2V755.7M520,549.1H486V565M520,580.9H504V596.8M520,644.4H504V660.3M520,708H504V723.9M486,660.3V692.1M468,565V628.5M520,803.4H504V787.5M520,867H504V851.1M486,819.3V851.1M520,898.8H504V914.7M520,962.3H486V946.4M468,882.9V946.4M451.5,755.7V882.9"/>
<path class="t" d="M520,135.8H504V151.7H486M520,231.2H504V215.3H486M520,263H504V278.9H486V247.1H468M520,326.5H504V342.4H486V374.2H468M520,421.9H504V406H486M520,453.7H504V469.6H486M520,612.6H504V596.8H486V565H468M520,676.2H504V660.3H486M520,835.2H504V851.1H486M520,930.5H504V914.7H486V946.4H468"/>
<path class="T" d="M520,104H486V119.9H468V183.5H451.5V310.6H434V533.2M520,517.3H486V501.4H468V437.8H451.5M520,739.8H504V723.9H486V692.1H468V628.5H451.5V755.7H434M520,771.6H504V787.5H486V819.3H468V882.9H451.5"/>
</g>
<g id="m40-lines">
<path class="k" d="M293,1223.5H344.4M293,1250.2H344.4V1223.5M293,1303.7H326.5M293,1330.5H326.5V1303.7M344.4,1343.8V1384M293,1357.2H326.5V1384M293,1384H326.5M362,1303.7H400.5"/>
<path class="t" d="M293,1410.7H326.5V1384H344.4"/>
<path class="T" d="M293,1196.7H344.4V1223.5H362V1343.8M293,1277H326.5V1303.7H344.4V1343.8H362"/>
<path class="k" d="M506,1223.5H472M506,1250.2H472V1223.5M506,1303.7H472M506,1330.5H472V1303.7M455,1263.6V1303.7M438,1263.6V1303.7M506,1384H472M506,1410.7H472V1384M455,1384V1424.1M506,1464.2H472M506,1491H472V1464.2"/>
<path class="t" d="M506,1277H472V1303.7H455M506,1357.2H472V1384H455"/>
<path class="T" d="M506,1196.7H472V1223.5H455V1263.6H438M506,1437.5H472V1464.2H455V1424.1H438V1303.7H400.5V1278"/>
</g>
<g id="m50-lines">
<path class="k" d="M293,1692.7H326.5M293,1719.3H326.5M293,1746H326.5V1706M293,1799.3H310M293,1825.9H310V1799.3M293,1852.6H310V1905.9M293,1905.9H310M344.4,1732.6V1839.3M293,1932.5H326.5V1985.8M293,1985.8H326.5M344.4,1959.2V1999.1M362,1825.9V1999.1M293,2039.1H326.5M293,2065.8H326.5V2039.1"/>
<path class="t" d="M293,1772.6H310V1799.3H326.5V1839.3H344.4M293,1879.2H326.5V1839.3M293,1959.2H344.4"/>
<path class="T" d="M293,1666H326.5V1706H344.4V1732.6H362V1825.9H400.5V1800.7M293,2012.5H326.5V2039.1H344.4V1999.1H362"/>
<path class="k" d="M506,1666H472V1692.7M506,1692.7H472M506,1746H472V1799.3M506,1799.3H472M455,1732.6V1772.6M438,1732.6V1825.9M400.5,1825.9H438M506,1852.6H472M506,1879.2H472V1852.6M506,1932.5H472M506,1959.2H472M506,1985.8H472V1945.8M455,1892.5V1945.8"/>
<path class="t" d="M506,1772.6H455M506,1905.9H472V1945.8H455"/>
<path class="T" d="M506,1719.3H472V1692.7H455V1732.6H438M506,1825.9H472V1852.6H455V1892.5H438V1825.9"/>
</g>
<g id="m60-lines">
<path class="k" d="M297.5,2288.8H324M297.5,2322.6H324M297.5,2356.3H324V2305.7M362,2356.3H400.5M362,2356.3V2423.9M297.5,2423.9H324M297.5,2457.7H324V2423.9"/>
<path class="T" d="M297.5,2255H324V2305.7H362V2356.3M297.5,2390.1H324V2423.9H362"/>
<path class="k" d="M504,2288.8H479M504,2322.6H479V2288.8M441,2356.3V2407M504,2390.1H479M504,2423.9H479M504,2457.7H479V2407"/>
<path class="T" d="M504,2255H479V2288.8H441V2356.3H400.5V2341.7M504,2356.3H479V2407H441"/>
</g>
<g id="hv-lines">
<path class="k" d="M297.5,2744.3H341.8V2812M297.5,2812H341.8M297.5,2879.7H324M297.5,2913.5H324V2879.7M341.8,2930.4V2981.2M362,2862.7V2930.4M297.5,2947.3H324V3015M297.5,3015H324"/>
<path class="t" d="M297.5,2981.2H341.8"/>
<path class="T" d="M297.5,2778.1H362V2862.7H400.5V2848.3M297.5,2845.8H324V2879.7H341.8V2930.4H362V2913"/>
<path class="k" d="M504,2744.3H460V2845.8M504,2812H460M504,2845.8H460M441,2795.1V2862.7M400.5,2862.7H441M504,2913.5H460M504,2947.3H460M504,2981.2H460V2930.4"/>
<path class="t" d="M504,2778.1H460V2795.1H441"/>
<path class="T" d="M504,2879.7H460V2930.4H441V2862.7"/>
</g>
</g>
</svg>
